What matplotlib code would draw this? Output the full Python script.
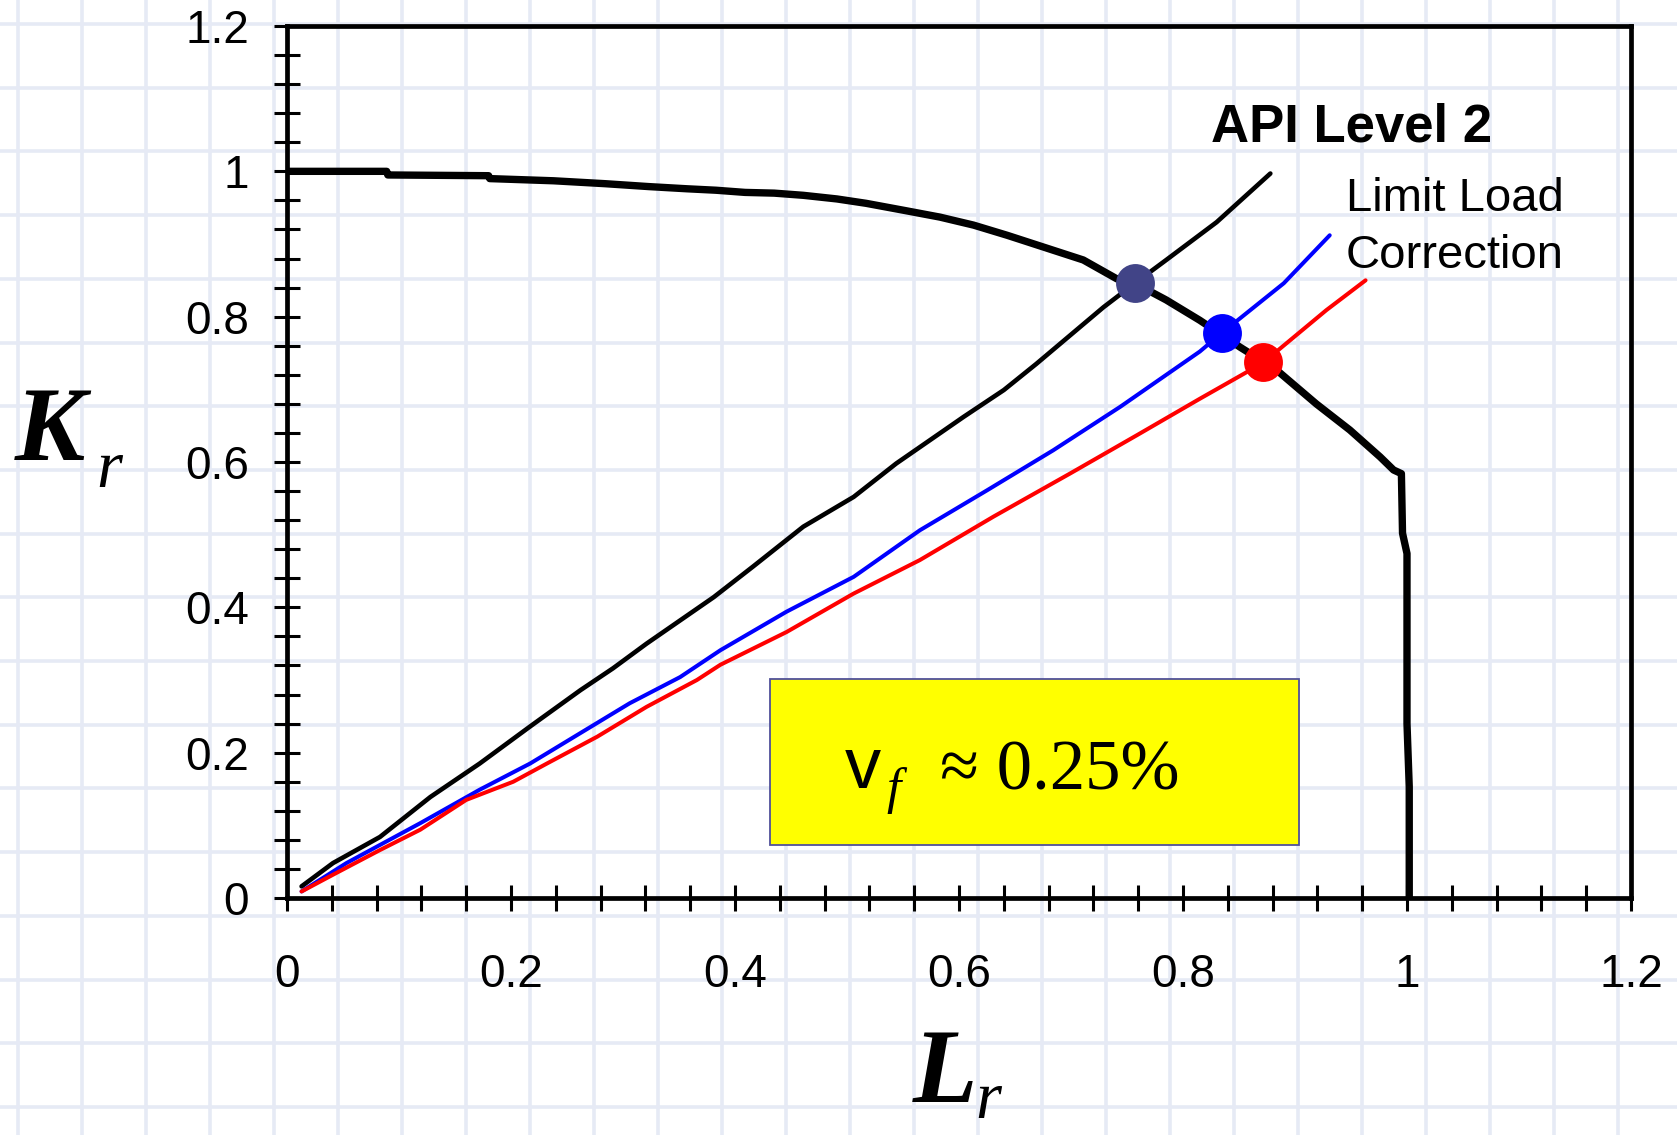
import matplotlib
matplotlib.use("Agg")
import matplotlib.pyplot as plt
from matplotlib.patches import Rectangle
import numpy as np

# datos
fad_lr = [0.0, 0.089, 0.090, 0.180, 0.181, 0.238, 0.284, 0.323, 0.357, 0.383, 0.409,
          0.435, 0.461, 0.491, 0.517, 0.552, 0.583, 0.613, 0.643, 0.675, 0.711, 0.741,
          0.757, 0.785, 0.815, 0.851, 0.884, 0.919, 0.949, 0.976, 0.988, 0.995, 0.996,
          1.000, 1.000, 1.002, 1.002]
fad_kr = [1.000, 1.000, 0.995, 0.994, 0.990, 0.987, 0.983, 0.979, 0.976, 0.974, 0.971,
          0.970, 0.967, 0.962, 0.956, 0.946, 0.937, 0.926, 0.912, 0.896, 0.878, 0.852,
          0.846, 0.823, 0.795, 0.758, 0.726, 0.680, 0.644, 0.607, 0.589, 0.584, 0.502,
          0.474, 0.240, 0.153, 0.0]

black_lr = [0.013, 0.041, 0.083, 0.128, 0.172, 0.217, 0.262, 0.291, 0.321, 0.381, 0.416,
            0.461, 0.506, 0.544, 0.604, 0.640, 0.669, 0.699, 0.729, 0.757, 0.785, 0.830, 0.878]
black_kr = [0.016, 0.048, 0.084, 0.139, 0.185, 0.236, 0.286, 0.316, 0.350, 0.414, 0.456,
            0.511, 0.552, 0.598, 0.662, 0.699, 0.735, 0.774, 0.813, 0.846, 0.878, 0.930, 0.997]

blue_lr = [0.013, 0.053, 0.119, 0.172, 0.217, 0.262, 0.306, 0.351, 0.387, 0.446, 0.506,
           0.565, 0.625, 0.684, 0.744, 0.815, 0.835, 0.890, 0.931]
blue_kr = [0.009, 0.048, 0.103, 0.149, 0.185, 0.227, 0.268, 0.304, 0.341, 0.394, 0.442,
           0.506, 0.561, 0.616, 0.676, 0.752, 0.778, 0.846, 0.912]

red_lr = [0.013, 0.041, 0.083, 0.119, 0.160, 0.202, 0.232, 0.277, 0.321, 0.366, 0.387,
          0.446, 0.506, 0.565, 0.631, 0.699, 0.759, 0.815, 0.871, 0.928, 0.963]
red_kr = [0.009, 0.032, 0.066, 0.094, 0.135, 0.160, 0.185, 0.222, 0.263, 0.300, 0.321,
          0.366, 0.419, 0.465, 0.525, 0.584, 0.637, 0.687, 0.736, 0.809, 0.850]

# puntos de interseccion
punto_lr = [0.757, 0.835, 0.871]
punto_kr = [0.846, 0.778, 0.737]
punto_color = ["#414487", "#0000ff", "#ff0000"]

ticks = [0, 0.2, 0.4, 0.6, 0.8, 1.0, 1.2]
tick_labels = ["0", "0.2", "0.4", "0.6", "0.8", "1", "1.2"]

W, H = 1677, 1135
fig = plt.figure(figsize=(W / 100, H / 100), dpi=100)
fig.patch.set_facecolor("white")


def fx(x):
    return x / W


def fy(y):
    return 1 - y / H


# fondo de papel cuadriculado
bg = fig.add_axes([0, 0, 1, 1], zorder=0)
bg.set_xlim(0, W)
bg.set_ylim(H, 0)
bg.axis("off")
for x in np.arange(18, W, 64.0):
    bg.axvline(x, color="#e6eaf5", lw=2.6)
for y in np.arange(24, H, 63.7):
    bg.axhline(y, color="#e6eaf5", lw=2.6)

ax = fig.add_axes([fx(287), fy(898), fx(1631) - fx(287), fy(26) - fy(898)], zorder=1)
ax.patch.set_alpha(0)

ax.plot(black_lr, black_kr, color="black", lw=3.3, solid_joinstyle="round", solid_capstyle="round")
ax.plot(blue_lr, blue_kr, color="#0000ff", lw=2.9, solid_joinstyle="round", solid_capstyle="round")
ax.plot(red_lr, red_kr, color="#ff0000", lw=2.9, solid_joinstyle="round", solid_capstyle="round")
ax.plot(fad_lr, fad_kr, color="black", lw=5.3, solid_joinstyle="round", solid_capstyle="butt")
for lr, kr, c in zip(punto_lr, punto_kr, punto_color):
    ax.plot(lr, kr, "o", color=c, markersize=28, markeredgewidth=0, zorder=5)

ax.set_xlim(0, 1.2)
ax.set_ylim(0, 1.2)
ax.set_xticks(ticks)
ax.set_xticklabels(tick_labels)
ax.set_yticks(ticks)
ax.set_yticklabels(tick_labels)
ax.set_xticks(np.arange(0, 1.2001, 0.04), minor=True)
ax.set_yticks(np.arange(0, 1.2001, 0.04), minor=True)
ax.tick_params(which="both", direction="inout", length=19, width=2.2, color="black")
ax.tick_params(axis="x", which="major", pad=30, labelsize=33)
ax.tick_params(axis="y", which="major", pad=18, labelsize=33)
ax.tick_params(top=False, right=False, which="both")
for lab in ax.get_xticklabels() + ax.get_yticklabels():
    lab.set_family("Liberation Sans")
for s in ax.spines.values():
    s.set_linewidth(3.4)

# etiquetas de ejes
fig.text(fx(15), fy(460), "K", family="Liberation Serif", style="italic", weight="bold",
         fontsize=76, va="baseline", ha="left")
fig.text(fx(96), fy(487), "r", family="Liberation Serif", style="italic",
         fontsize=48, va="baseline", ha="left")
fig.text(fx(913), fy(1102), "L", family="Liberation Serif", style="italic", weight="bold",
         fontsize=76, va="baseline", ha="left")
fig.text(fx(975), fy(1118), "r", family="Liberation Serif", style="italic",
         fontsize=48, va="baseline", ha="left")

# textos
fig.text(fx(1211), fy(142), "API Level 2", family="Liberation Sans", weight="bold",
         fontsize=38, va="baseline", ha="left")
fig.text(fx(1346), fy(211), "Limit Load", family="Liberation Sans",
         fontsize=34, va="baseline", ha="left")
fig.text(fx(1346), fy(268), "Correction", family="Liberation Sans",
         fontsize=34, va="baseline", ha="left")

# caja amarilla
caja = Rectangle((fx(770), fy(845)), fx(1299) - fx(770), fy(679) - fy(845),
                 transform=fig.transFigure, facecolor="#ffff00", edgecolor="#50509a",
                 lw=1.3, zorder=3)
fig.add_artist(caja)
fig.text(fx(845), fy(788), "v", family="Liberation Sans", fontsize=52,
         va="baseline", ha="left", zorder=4)
fig.text(fx(886), fy(803), "f", family="Liberation Serif", style="italic", fontsize=37,
         va="baseline", ha="left", zorder=4)
fig.text(fx(940), fy(790), "\u2248 0.25%", family="Liberation Serif", fontsize=51,
         va="baseline", ha="left", zorder=4)

plt.savefig("out.png", dpi=100)
plt.close()
